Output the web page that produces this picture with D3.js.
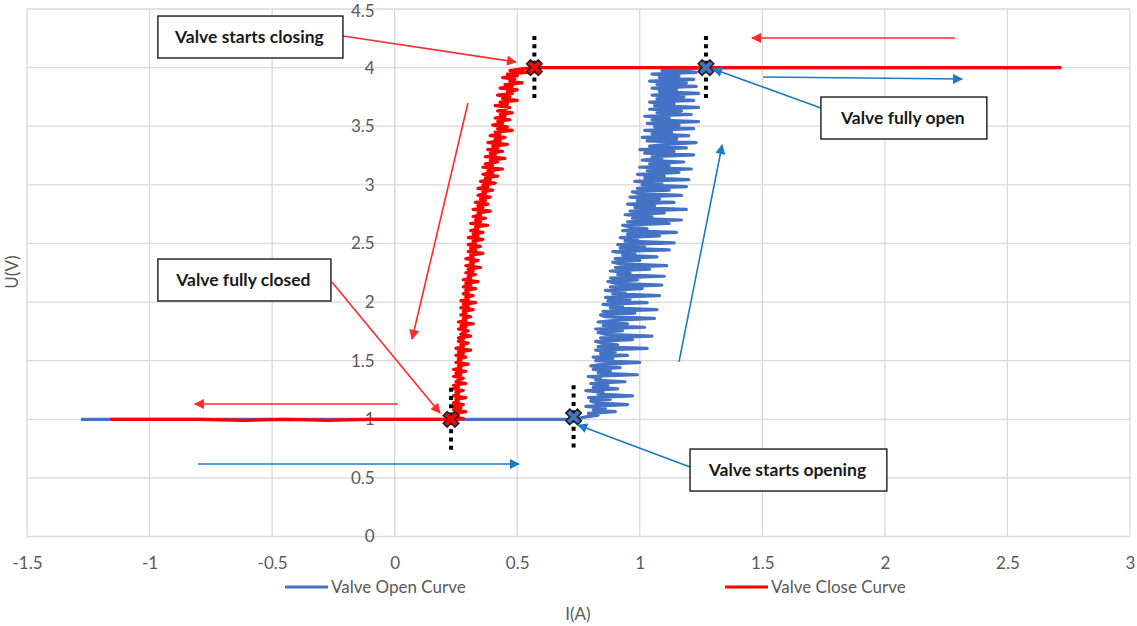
<!DOCTYPE html>
<html>
<head>
<meta charset="utf-8">
<script src="https://cdn.jsdelivr.net/npm/d3@7"></script>
<style>
  body { margin: 0; background: #fff; }
  svg { display: block; font-family: Lato, "Open Sans", sans-serif; }
</style>
</head>
<body>
<div id="chart"></div>
<script>
// axis ticks
var xTicks = [-1.5, -1, -0.5, 0, 0.5, 1, 1.5, 2, 2.5, 3];
var yTicks = [0, 0.5, 1, 1.5, 2, 2.5, 3, 3.5, 4, 4.5];

// Valve Open Curve, [I(A), U(V)]
var openCurve = [
  [-1.28,1.000],[0.73,1.000],
  [0.78,1.020],[0.83,1.035],[0.79,1.050],[0.90,1.065],[0.81,1.080],[0.86,1.095],[0.78,1.110],[0.95,1.125],[0.82,1.140],[0.80,1.155],
  [0.88,1.170],[0.79,1.185],[0.97,1.200],[0.83,1.215],[0.85,1.230],[0.78,1.245],[0.91,1.260],[0.81,1.275],[0.87,1.290],
  [0.80,1.305],[0.94,1.320],[0.82,1.335],[0.84,1.350],[0.79,1.365],[0.99,1.380],[0.83,1.395],[0.88,1.410],[0.81,1.425],[0.92,1.440],
  [0.80,1.455],[0.86,1.470],[1.00,1.485],[0.82,1.500],[0.89,1.515],[0.81,1.530],[0.95,1.545],[0.84,1.560],[0.90,1.575],[0.82,1.590],
  [1.03,1.605],[0.83,1.620],[0.91,1.635],[0.85,1.650],[0.82,1.665],[0.97,1.680],[0.84,1.695],[1.05,1.710],[0.86,1.725],[0.83,1.740],
  [0.93,1.755],[0.82,1.770],[1.02,1.785],[0.85,1.800],[0.95,1.815],[0.83,1.830],[0.90,1.845],[1.06,1.860],[0.86,1.875],[0.84,1.890],
  [0.98,1.905],[0.85,1.920],[1.07,1.935],[0.88,1.950],[0.93,1.965],[0.85,1.980],[1.03,1.995],[0.87,2.010],[0.96,2.025],[0.86,2.040],
  [1.08,2.055],[0.89,2.070],[0.94,2.085],[0.86,2.100],[1.01,2.115],[0.88,2.130],[1.09,2.145],[0.90,2.160],[0.87,2.175],[0.99,2.190],
  [0.88,2.205],[1.10,2.220],[0.91,2.235],[0.96,2.250],[0.88,2.265],[1.04,2.280],[0.90,2.295],[1.11,2.310],[0.92,2.325],[0.89,2.340],
  [1.00,2.355],[0.90,2.370],[1.07,2.385],[0.93,2.400],[0.98,2.415],[0.89,2.430],[1.12,2.445],[0.92,2.460],[1.02,2.475],[0.91,2.490],
  [1.14,2.505],[0.94,2.520],[0.99,2.535],[0.92,2.550],[1.08,2.565],[0.95,2.580],[1.15,2.595],[0.93,2.610],[1.03,2.625],[0.96,2.640],
  [0.93,2.655],[1.12,2.670],[0.95,2.685],[1.17,2.700],[0.97,2.715],[1.05,2.730],[0.94,2.745],[1.10,2.760],[0.96,2.775],[1.19,2.790],
  [0.98,2.805],[1.06,2.820],[0.95,2.835],[1.14,2.850],[0.99,2.865],[1.08,2.880],[0.96,2.895],[1.17,2.910],[1.00,2.925],[0.97,2.940],
  [1.12,2.955],[0.99,2.970],[1.19,2.985],[1.01,3.000],[1.09,3.015],[0.98,3.030],[1.20,3.045],[1.02,3.060],[1.10,3.075],[0.99,3.090],
  [1.16,3.105],[1.03,3.120],[1.21,3.135],[1.00,3.150],[1.12,3.165],[1.04,3.180],[1.18,3.195],[1.01,3.210],[1.09,3.225],[1.05,3.240],
  [1.22,3.255],[1.02,3.270],[1.14,3.285],[1.00,3.300],[1.19,3.315],[1.04,3.330],[1.11,3.345],[1.23,3.360],[1.03,3.375],[1.15,3.390],
  [1.01,3.405],[1.20,3.420],[1.05,3.435],[1.13,3.450],[1.02,3.465],[1.22,3.480],[1.06,3.495],[1.16,3.510],[1.03,3.525],[1.24,3.540],
  [1.05,3.555],[1.12,3.570],[1.02,3.585],[1.21,3.600],[1.07,3.615],[1.17,3.630],[1.04,3.645],[1.24,3.660],[1.06,3.675],[1.14,3.690],
  [1.04,3.705],[1.22,3.720],[1.07,3.735],[1.18,3.750],[1.05,3.765],[1.24,3.780],[1.08,3.795],[1.15,3.810],[1.05,3.825],[1.23,3.840],
  [1.07,3.855],[1.19,3.870],[1.04,3.885],[1.22,3.900],[1.08,3.915],[1.16,3.930],[1.05,3.945],[1.23,3.960],[1.09,3.975],[1.20,3.990],
  [1.27,4.000],[2.70,4.000]
];

// Valve Close Curve, [I(A), U(V)]
var closeCurve = [
  [2.72,4.000],[0.57,4.000],
  [0.52,3.990],[0.47,3.975],[0.54,3.960],[0.46,3.945],[0.50,3.930],[0.44,3.915],[0.49,3.900],[0.47,3.885],[0.52,3.870],[0.45,3.855],
  [0.48,3.840],[0.43,3.825],[0.50,3.810],[0.46,3.795],[0.48,3.780],[0.42,3.765],[0.47,3.750],[0.44,3.735],[0.50,3.720],[0.43,3.705],
  [0.46,3.690],[0.41,3.675],[0.47,3.660],[0.44,3.645],[0.42,3.630],[0.48,3.615],[0.43,3.600],[0.45,3.585],[0.41,3.570],[0.47,3.555],
  [0.42,3.540],[0.44,3.525],[0.40,3.510],[0.46,3.495],[0.42,3.480],[0.48,3.465],[0.41,3.450],[0.43,3.435],[0.39,3.420],[0.45,3.405],
  [0.41,3.390],[0.43,3.375],[0.38,3.360],[0.46,3.345],[0.40,3.330],[0.42,3.315],[0.38,3.300],[0.44,3.285],[0.39,3.270],[0.41,3.255],
  [0.37,3.240],[0.45,3.225],[0.39,3.210],[0.42,3.195],[0.37,3.180],[0.40,3.165],[0.36,3.150],[0.44,3.135],[0.38,3.120],[0.40,3.105],
  [0.36,3.090],[0.42,3.075],[0.37,3.060],[0.39,3.045],[0.35,3.030],[0.41,3.015],[0.36,3.000],[0.38,2.985],[0.34,2.970],[0.40,2.955],
  [0.36,2.940],[0.37,2.925],[0.34,2.910],[0.39,2.895],[0.35,2.880],[0.37,2.865],[0.33,2.850],[0.38,2.835],[0.34,2.820],[0.36,2.805],
  [0.32,2.790],[0.39,2.775],[0.34,2.760],[0.35,2.745],[0.32,2.730],[0.37,2.715],[0.33,2.700],[0.35,2.685],[0.31,2.670],[0.38,2.655],
  [0.33,2.640],[0.34,2.625],[0.31,2.610],[0.36,2.595],[0.32,2.580],[0.34,2.565],[0.30,2.550],[0.36,2.535],[0.32,2.520],[0.33,2.505],
  [0.30,2.490],[0.35,2.475],[0.31,2.460],[0.33,2.445],[0.30,2.430],[0.36,2.415],[0.31,2.400],[0.32,2.385],[0.29,2.370],[0.34,2.355],
  [0.31,2.340],[0.32,2.325],[0.29,2.310],[0.35,2.295],[0.30,2.280],[0.32,2.265],[0.29,2.250],[0.33,2.235],[0.30,2.220],[0.31,2.205],
  [0.28,2.190],[0.34,2.175],[0.29,2.160],[0.31,2.145],[0.28,2.130],[0.33,2.115],[0.29,2.100],[0.30,2.085],[0.28,2.070],[0.32,2.055],
  [0.29,2.040],[0.30,2.025],[0.27,2.010],[0.33,1.995],[0.28,1.980],[0.30,1.965],[0.27,1.950],[0.32,1.935],[0.28,1.920],[0.29,1.905],
  [0.27,1.890],[0.31,1.875],[0.28,1.860],[0.29,1.845],[0.26,1.830],[0.32,1.815],[0.27,1.800],[0.29,1.785],[0.26,1.770],[0.30,1.755],
  [0.28,1.740],[0.27,1.725],[0.31,1.710],[0.26,1.695],[0.28,1.680],[0.26,1.665],[0.30,1.650],[0.27,1.635],[0.28,1.620],[0.25,1.605],
  [0.31,1.590],[0.26,1.575],[0.28,1.560],[0.25,1.545],[0.29,1.530],[0.26,1.515],[0.27,1.500],[0.25,1.485],[0.30,1.470],[0.26,1.455],
  [0.27,1.440],[0.24,1.425],[0.29,1.410],[0.25,1.395],[0.27,1.380],[0.24,1.365],[0.28,1.350],[0.26,1.335],[0.25,1.320],[0.29,1.305],
  [0.24,1.290],[0.26,1.275],[0.24,1.260],[0.28,1.245],[0.25,1.230],[0.26,1.215],[0.24,1.200],[0.29,1.185],[0.25,1.170],[0.26,1.155],
  [0.24,1.140],[0.28,1.125],[0.24,1.110],[0.27,1.095],[0.24,1.080],[0.29,1.065],[0.25,1.050],[0.26,1.035],[0.24,1.020],[0.28,1.005],
  [0.23,1.000],
  [-0.10,1.000],[-0.27,0.990],[-0.45,1.000],[-0.62,0.990],[-0.80,1.000],[-1.16,1.000]
];

// marked switching points: I, U, curve
var keyPoints = [
  [0.57, 4.00, "close"],
  [1.27, 4.00, "open"],
  [0.23, 1.00, "close"],
  [0.73, 1.02, "open"]
];

// callout boxes: text, I left, U top, I right, U bottom
var callouts = [
  ["Valve starts closing", -0.966, 4.44, -0.211, 4.082],
  ["Valve fully open", 1.739, 3.749, 2.416, 3.391],
  ["Valve fully closed", -0.966, 2.367, -0.260, 2.009],
  ["Valve starts opening", 1.205, 0.746, 2.008, 0.388]
];

// direction arrows: I from, U from, I to, U to, colour
var arrows = [
  [-0.211, 4.270, 0.495, 4.048, "red"],
  [2.286, 4.253, 1.458, 4.253, "red"],
  [1.503, 3.920, 2.315, 3.903, "blue"],
  [1.739, 3.656, 1.299, 3.988, "blue"],
  [1.160, 1.489, 1.336, 3.340, "blue"],
  [0.299, 3.698, 0.071, 1.685, "red"],
  [-0.256, 2.171, 0.185, 1.054, "red"],
  [0.013, 1.130, -0.815, 1.130, "red"],
  [-0.802, 0.618, 0.507, 0.618, "blue"],
  [1.205, 0.593, 0.748, 0.951, "blue"]
];

var curveColour = { open: "#4472c4", close: "#ff0000" };
var arrowColour = { red: "#ff2a2a", blue: "#1a7ac8" };

var W = 1137, H = 626;
var margin = { top: 9, right: 7, bottom: 89.5, left: 27 };
var width = W - margin.left - margin.right,
    height = H - margin.top - margin.bottom;

var svg = d3.select("#chart").append("svg")
    .attr("width", W)
    .attr("height", H);

var defs = svg.append("defs");
Object.keys(arrowColour).forEach(function(k) {
  defs.append("marker")
      .attr("id", "head-" + k)
      .attr("viewBox", "0 0 10 10")
      .attr("refX", 9).attr("refY", 5)
      .attr("markerWidth", 12).attr("markerHeight", 10)
      .attr("markerUnits", "userSpaceOnUse")
      .attr("orient", "auto")
    .append("path")
      .attr("d", "M0,0 L10,5 L0,10 Z")
      .attr("fill", arrowColour[k]);
});

var g = svg.append("g")
    .attr("transform", "translate(" + margin.left + "," + margin.top + ")");

var x = d3.scaleLinear().domain([-1.5, 3]).range([0, width]);
var y = d3.scaleLinear().domain([0, 4.5]).range([height, 0]);

// gridlines
g.append("g").selectAll("line").data(xTicks).enter().append("line")
    .attr("x1", function(d) { return x(d); }).attr("x2", function(d) { return x(d); })
    .attr("y1", 0).attr("y2", height)
    .attr("stroke", "#d9d9d9").attr("stroke-width", 1.3);
g.append("g").selectAll("line").data(yTicks).enter().append("line")
    .attr("y1", function(d) { return y(d); }).attr("y2", function(d) { return y(d); })
    .attr("x1", 0).attr("x2", width)
    .attr("stroke", "#d9d9d9").attr("stroke-width", 1.3);

// axes (labels only)
var xAxis = g.append("g")
    .attr("transform", "translate(0," + height + ")")
    .call(d3.axisBottom(x).tickValues(xTicks).tickSize(0).tickPadding(20)
      .tickFormat(function(d) { return String(d); }));
var yAxis = g.append("g")
    .attr("transform", "translate(" + x(0) + ",0)")
    .call(d3.axisLeft(y).tickValues(yTicks).tickSize(0).tickPadding(20)
      .tickFormat(function(d) { return String(d); }));
[xAxis, yAxis].forEach(function(a) {
  a.select(".domain").remove();
  a.selectAll("text").attr("fill", "#595959").style("font-size", "17px")
      .style("font-family", "Lato, 'Open Sans', sans-serif");
});
// keep the top label inside the picture
yAxis.selectAll("text").filter(function(d) { return d === 4.5; }).attr("dy", "0.45em");

// curves
var line = d3.line()
    .x(function(d) { return x(d[0]); })
    .y(function(d) { return y(d[1]); });

g.append("path").datum(openCurve)
    .attr("d", line).attr("fill", "none")
    .attr("stroke", curveColour.open).attr("stroke-width", 3.2)
    .attr("stroke-linejoin", "round");
g.append("path").datum(closeCurve)
    .attr("d", line).attr("fill", "none")
    .attr("stroke", curveColour.close).attr("stroke-width", 3.2)
    .attr("stroke-linejoin", "round");

// dotted verticals through switching points
g.append("g").selectAll("line").data(keyPoints).enter().append("line")
    .attr("x1", function(d) { return x(d[0]); }).attr("x2", function(d) { return x(d[0]); })
    .attr("y1", function(d) { return y(d[1] + 0.27); })
    .attr("y2", function(d) { return y(d[1] - 0.27); })
    .attr("stroke", "#000").attr("stroke-width", 4)
    .attr("stroke-dasharray", "4,4.3");

// X markers
g.append("g").selectAll("path").data(keyPoints).enter().append("path")
    .attr("d", d3.symbol().type(d3.symbolCross).size(150))
    .attr("transform", function(d) {
      return "translate(" + x(d[0]) + "," + y(d[1]) + ") rotate(45)";
    })
    .attr("fill", function(d) { return curveColour[d[2]]; })
    .attr("stroke", "#222").attr("stroke-width", 1.6);

// arrows
g.append("g").selectAll("line").data(arrows).enter().append("line")
    .attr("x1", function(d) { return x(d[0]); })
    .attr("y1", function(d) { return y(d[1]); })
    .attr("x2", function(d) { return x(d[2]); })
    .attr("y2", function(d) { return y(d[3]); })
    .attr("stroke", function(d) { return arrowColour[d[4]]; })
    .attr("stroke-width", 1.6)
    .attr("marker-end", function(d) { return "url(#head-" + d[4] + ")"; });

// callout boxes
var box = g.append("g").selectAll("g").data(callouts).enter().append("g");
box.append("rect")
    .attr("x", function(d) { return x(d[1]); })
    .attr("y", function(d) { return y(d[2]); })
    .attr("width", function(d) { return x(d[3]) - x(d[1]); })
    .attr("height", function(d) { return y(d[4]) - y(d[2]); })
    .attr("fill", "#fff").attr("stroke", "#1a1a1a").attr("stroke-width", 1.4);
box.append("text")
    .attr("x", function(d) { return (x(d[1]) + x(d[3])) / 2 - 1; })
    .attr("y", function(d) { return (y(d[2]) + y(d[4])) / 2; })
    .attr("dy", "0.35em")
    .attr("text-anchor", "middle")
    .style("font-size", "17.5px").style("font-weight", "bold")
    .attr("fill", "#1a1a1a")
    .text(function(d) { return d[0]; });

// legend
var legend = svg.append("g").attr("transform", "translate(0,587)");
var legendItems = [["Valve Open Curve", "open", 285], ["Valve Close Curve", "close", 725]];
legendItems.forEach(function(it) {
  legend.append("line")
      .attr("x1", it[2]).attr("x2", it[2] + 43)
      .attr("stroke", curveColour[it[1]]).attr("stroke-width", 3);
  legend.append("text")
      .attr("x", it[2] + 46).attr("dy", "0.35em")
      .attr("fill", "#595959").style("font-size", "17px")
      .text(it[0]);
});

// axis titles
svg.append("text")
    .attr("x", 578).attr("y", 614).attr("dy", "0.35em")
    .attr("text-anchor", "middle")
    .attr("fill", "#595959").style("font-size", "17px")
    .text("I(A)");
svg.append("text")
    .attr("transform", "translate(12,272) rotate(-90)")
    .attr("dy", "0.35em")
    .attr("text-anchor", "middle")
    .attr("fill", "#595959").style("font-size", "17px")
    .text("U(V)");
</script>
</body>
</html>
